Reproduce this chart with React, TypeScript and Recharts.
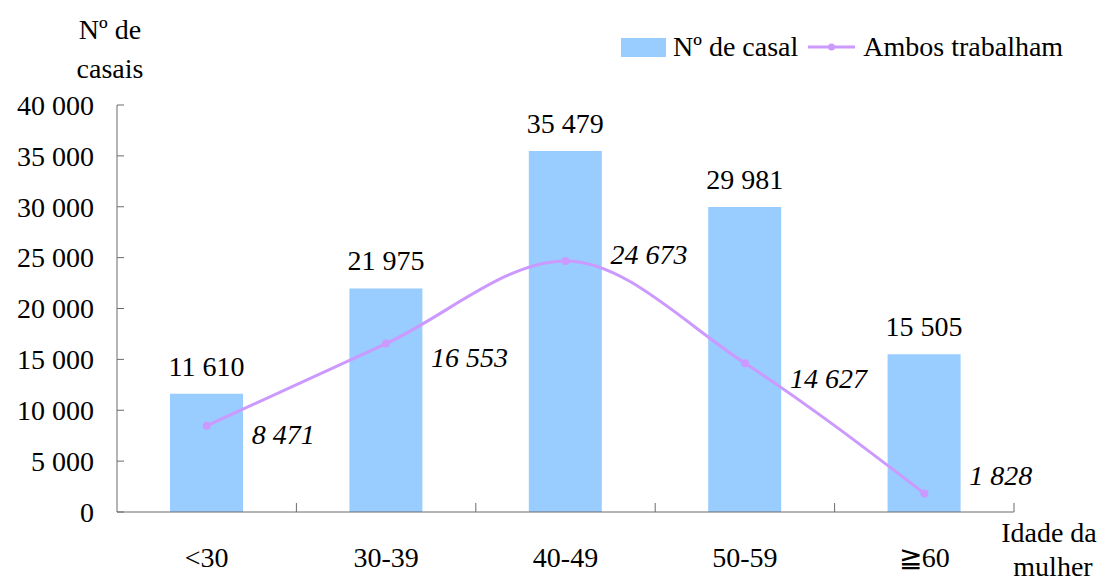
import React from 'react';
import {
  ComposedChart,
  Bar,
  Line,
  XAxis,
  YAxis,
  Legend,
  LabelList,
} from 'recharts';

const ageGroups = ['<30', '30-39', '40-49', '50-59', '≧60'];
const totalCouples = [11610, 21975, 35479, 29981, 15505];
const bothWorking = [8471, 16553, 24673, 14627, 1828];
const yTicks = [0, 5000, 10000, 15000, 20000, 25000, 30000, 35000, 40000];

const data = ageGroups.map((age, i) => ({
  age,
  total: totalCouples[i],
  both: bothWorking[i],
}));

const FONT = '"Liberation Serif", "Times New Roman", serif';
const BAR_COLOR = '#99ccff';
const LINE_COLOR = '#cc99ff';
const AXIS_COLOR = '#6b6b6b';
const FONT_SIZE = 28;

const WIDTH = 1101;
const HEIGHT = 582;
const margin = { top: 105, right: 87, bottom: 0, left: 0 };
const Y_AXIS_WIDTH = 117;
const X_AXIS_HEIGHT = 70;
const BAND = (WIDTH - margin.left - margin.right - Y_AXIS_WIDTH) / ageGroups.length;

// label nudges copied from the original (they were moved by hand there)
const lineLabelDy = [18, 23, 3, 25, -8];

const fmt = (v: number) => String(v).replace(/\B(?=(\d{3})+(?!\d))/g, ' ');

const YTick = (props: any) => {
  const { x, y, payload } = props;
  return (
    <g>
      <line x1={x} x2={x + 7} y1={y} y2={y} stroke={AXIS_COLOR} />
      <text
        x={x - 23}
        y={y}
        dy="0.35em"
        textAnchor="end"
        fontFamily={FONT}
        fontSize={FONT_SIZE}
        fill="#000"
      >
        {fmt(payload.value)}
      </text>
    </g>
  );
};

const XTick = (props: any) => {
  const { x, y, payload } = props;
  return (
    <g>
      <line x1={x + BAND / 2} x2={x + BAND / 2} y1={y} y2={y - 9} stroke={AXIS_COLOR} />
      <text
        x={x}
        y={y + 55}
        textAnchor="middle"
        fontFamily={FONT}
        fontSize={FONT_SIZE}
        fill="#000"
      >
        {payload.value}
      </text>
    </g>
  );
};

const LineLabel = (props: any) => {
  const { x, y, value, index } = props;
  return (
    <text
      x={x + 45}
      y={y + lineLabelDy[index]}
      fontFamily={FONT}
      fontSize={FONT_SIZE}
      fontStyle="italic"
      fill="#000"
    >
      {fmt(value)}
    </text>
  );
};

const LegendContent = () => (
  <div
    style={{
      display: 'flex',
      alignItems: 'center',
      fontFamily: FONT,
      fontSize: FONT_SIZE,
      lineHeight: '30px',
      color: '#000',
      whiteSpace: 'nowrap',
    }}
  >
    <span style={{ display: 'inline-block', width: 45, height: 19, background: BAR_COLOR, marginRight: 7 }} />
    <span>Nº de casal</span>
    <svg width={47} height={12} style={{ marginLeft: 10, marginRight: 8 }}>
      <line x1={0} x2={47} y1={6} y2={6} stroke={LINE_COLOR} strokeWidth={3} />
      <circle cx={23.5} cy={6} r={3.5} fill={LINE_COLOR} />
    </svg>
    <span>Ambos trabalham</span>
  </div>
);

export default function App() {
  return (
    <div style={{ position: 'absolute', left: 0, top: 0, background: '#fff' }}>
      <ComposedChart width={WIDTH} height={HEIGHT} data={data} margin={margin}>
        <XAxis
          dataKey="age"
          height={X_AXIS_HEIGHT}
          axisLine={{ stroke: AXIS_COLOR }}
          tickLine={false}
          tickSize={0}
          tickMargin={0}
          tick={<XTick />}
          interval={0}
        />
        <YAxis
          width={Y_AXIS_WIDTH}
          domain={[0, 40000]}
          ticks={yTicks}
          interval={0}
          axisLine={{ stroke: AXIS_COLOR }}
          tickLine={false}
          tickSize={0}
          tickMargin={0}
          tick={<YTick />}
        />
        <Bar dataKey="total" fill={BAR_COLOR} barSize={73} isAnimationActive={false}>
          <LabelList
            dataKey="total"
            position="top"
            offset={18}
            formatter={(v: any) => fmt(v)}
            fill="#000"
            fontSize={FONT_SIZE}
            fontFamily={FONT}
          />
        </Bar>
        <Line
          type="monotone"
          dataKey="both"
          stroke={LINE_COLOR}
          strokeWidth={3}
          dot={{ r: 4, fill: LINE_COLOR, stroke: 'none' }}
          activeDot={false}
          isAnimationActive={false}
        >
          <LabelList dataKey="both" content={<LineLabel />} />
        </Line>
        <Legend
          verticalAlign="middle"
          align="center"
          wrapperStyle={{ top: 32, left: 621, width: 470, height: 30 }}
          content={() => <LegendContent />}
        />
        <text x={110} y={39} textAnchor="middle" fontFamily={FONT} fontSize={FONT_SIZE} fill="#000">
          Nº de
        </text>
        <text x={110} y={78} textAnchor="middle" fontFamily={FONT} fontSize={FONT_SIZE} fill="#000">
          casais
        </text>
        <text x={1049} y={542} textAnchor="middle" fontFamily={FONT} fontSize={FONT_SIZE} fill="#000">
          Idade da
        </text>
        <text x={1053} y={576} textAnchor="middle" fontFamily={FONT} fontSize={FONT_SIZE} fill="#000">
          mulher
        </text>
      </ComposedChart>
    </div>
  );
}
